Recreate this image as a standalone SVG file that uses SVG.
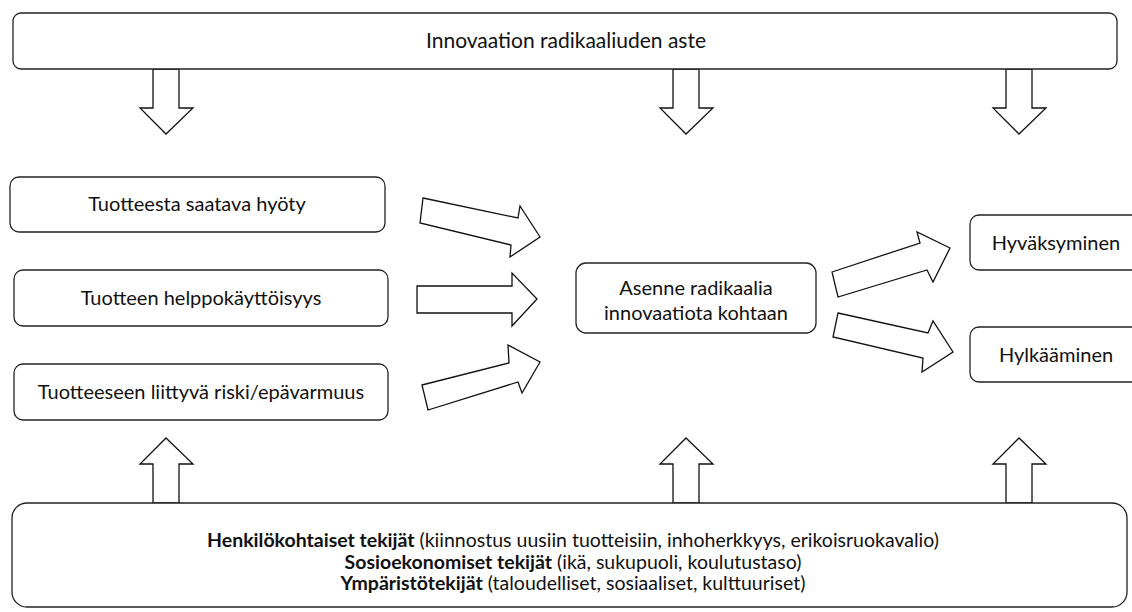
<svg xmlns="http://www.w3.org/2000/svg" width="1132" height="612" viewBox="0 0 1132 612">
<style>
.box{fill:#fff;stroke:#222;stroke-width:1.3}
.arr{fill:#fff;stroke:#111;stroke-width:1.3;stroke-linejoin:miter}
text{font-family:Lato,"Liberation Sans",sans-serif;font-size:20px;fill:#111;text-anchor:middle}
.t{font-size:21px}
.s{font-size:19.5px}
.b{font-weight:bold}
</style>
<rect width="1132" height="612" fill="#fff"/>
<g id="connectors">
<path class="arr" d="M153,69 L179,69 L179,108 L193,108 L166,134 L140,108 L153,108 Z"/>
<path class="arr" d="M673,69 L699,69 L699,108 L713,108 L686,134 L660,108 L673,108 Z"/>
<path class="arr" d="M1006,69 L1032,69 L1032,108 L1046,108 L1019,134 L993,108 L1006,108 Z"/>
<path class="arr" d="M153,503 L179,503 L179,464 L193,464 L166,438 L140,464 L153,464 Z"/>
<path class="arr" d="M673,503 L699,503 L699,464 L713,464 L686,438 L660,464 L673,464 Z"/>
<path class="arr" d="M1006,503 L1032,503 L1032,464 L1046,464 L1019,438 L993,464 L1006,464 Z"/>
<path class="arr" d="M423,198 L518,218 L520,206 L540,237 L510,257 L511,245 L420,223 Z"/>
<path class="arr" d="M417,286 L512,286 L512,273 L537,299 L512,326 L512,313 L417,313 Z"/>
<path class="arr" d="M422,385 L509,363 L508,345 L540,362 L522,393 L518,382 L428,410 Z"/>
<path class="arr" d="M832,272 L920,243 L917,232 L950,248 L933,282 L927,270 L838,297 Z"/>
<path class="arr" d="M838,313 L928,333 L933,321 L953,352 L922,372 L923,358 L833,337 Z"/>
</g>
<g id="top">
<rect class="box" x="13" y="13" width="1104" height="56" rx="8"/>
<text class="t" x="566" y="48">Innovaation radikaaliuden aste</text>
</g>
<g id="hyoty">
<rect class="box" x="10" y="177" width="375" height="55" rx="9"/>
<text x="197" y="211">Tuotteesta saatava hyöty</text>
</g>
<g id="helppo">
<rect class="box" x="14" y="270" width="374" height="56" rx="9"/>
<text x="201" y="305">Tuotteen helppokäyttöisyys</text>
</g>
<g id="riski">
<rect class="box" x="14" y="364" width="374" height="56" rx="9"/>
<text x="201" y="399">Tuotteeseen liittyvä riski/epävarmuus</text>
</g>
<g id="asenne">
<rect class="box" x="576" y="263" width="240" height="70" rx="10"/>
<text x="696" y="295">Asenne radikaalia</text>
<text x="696" y="320">innovaatiota kohtaan</text>
</g>
<g id="hyvaksyminen">
<rect class="box" x="970" y="215" width="180" height="55" rx="9"/>
<text x="1056" y="250">Hyväksyminen</text>
</g>
<g id="hylkaaminen">
<rect class="box" x="970" y="327" width="180" height="55" rx="9"/>
<text x="1056" y="362">Hylkääminen</text>
</g>
<g id="tekijat">
<rect class="box" x="12" y="503" width="1115" height="104" rx="15"/>
<text class="s" x="573" y="547"><tspan class="b">Henkilökohtaiset tekijät</tspan> (kiinnostus uusiin tuotteisiin, inhoherkkyys, erikoisruokavalio)</text>
<text class="s" x="573" y="568.5"><tspan class="b">Sosioekonomiset tekijät</tspan> (ikä, sukupuoli, koulutustaso)</text>
<text class="s" x="573" y="590"><tspan class="b">Ympäristötekijät</tspan> (taloudelliset, sosiaaliset, kulttuuriset)</text>
</g>
</svg>
